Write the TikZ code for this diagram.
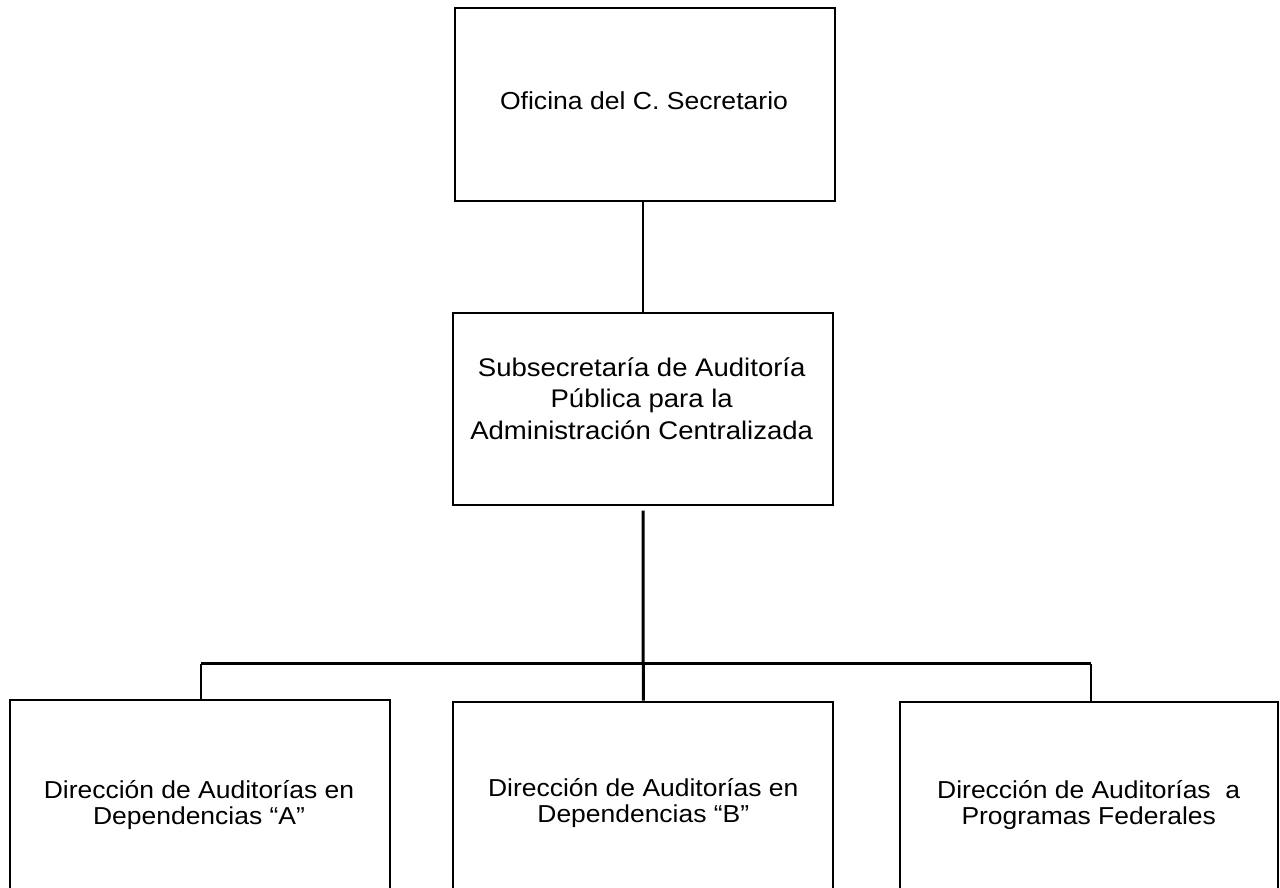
\documentclass[tikz,border=0pt]{standalone}
\usepackage{fontspec}
\setmainfont[FakeStretch=1.08]{Liberation Sans}
\begin{document}
\begin{tikzpicture}[x=1pt,y=-1pt,
  unitbox/.style={draw=black,line width=2pt,rectangle,inner sep=0pt},
  toptxt/.style={align=center,font=\fontsize{24.6}{29}\selectfont},
  midtxt/.style={align=center,font=\fontsize{25.5}{31.2}\selectfont},
  lowtxt/.style={align=center,font=\fontsize{24.5}{26.8}\selectfont},
  link/.style={line width=2pt},
  trunk/.style={line width=3pt},
  bus/.style={line width=2.3pt}]
\useasboundingbox (0,0) rectangle (1280,888);
\clip (0,0) rectangle (1280,888);
% boxes
\node[unitbox,minimum width=380pt,minimum height=192.5pt] (sec) at (645,104.75) {};
\node[unitbox,minimum width=380pt,minimum height=192pt] (sub) at (643,408.7) {};
\node[unitbox,minimum width=379.7pt,minimum height=220pt] (dirA) at (199.85,809.7) {};
\node[unitbox,minimum width=380pt,minimum height=220pt] (dirB) at (643.3,811.7) {};
\node[unitbox,minimum width=378pt,minimum height=220pt] (dirC) at (1089,811.7) {};
% labels
\node[toptxt] (secT) at (644,100.5) {Oficina del C. Secretario};
\node[midtxt] (subT) at (641.7,398.7) {Subsecretaría de Auditoría\\Pública para la\\Administración Centralizada};
\node[lowtxt] (dirAT) at (199,805) {Dirección de Auditorías en\\Dependencias “A”};
\node[lowtxt] (dirBT) at (643.3,803) {Dirección de Auditorías en\\Dependencias “B”};
\node[lowtxt] (dirCT) at (1088.7,805) {Dirección de Auditorías~ a\\Programas Federales};
% connectors
\coordinate (busL) at (201,663.5);
\coordinate (busR) at (1091.3,663.5);
\draw[link] (sub.north |- sec.south) -- (sub.north);
\draw[trunk] ([yshift=-5pt]sub.south) -- (dirB.north);
\draw[bus] (busL) -- (busR);
\draw[bus] (busL) -- (busL |- dirA.north);
\draw[bus] (busR) -- (busR |- dirC.north);
\end{tikzpicture}
\end{document}
